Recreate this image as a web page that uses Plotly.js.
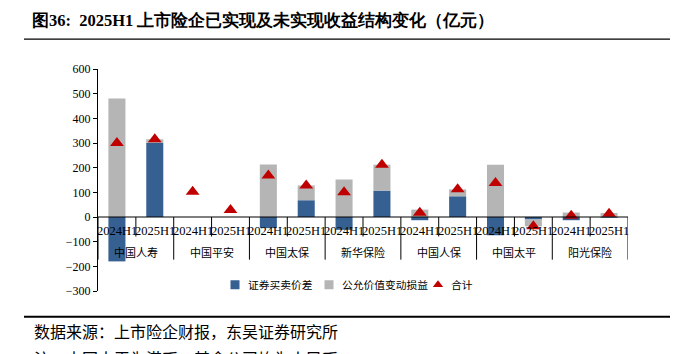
<!DOCTYPE html>
<html>
<head>
<meta charset="utf-8">
<script src="https://cdn.plot.ly/plotly-3.0.1.min.js"></script>
<style>html,body{margin:0;padding:0;background:#fff;}#chart{width:691px;height:354px;}</style>
</head>
<body>
<div id="chart"></div>
<script>
const companies = ['中国人寿','中国平安','中国太保','新华保险','中国人保','中国太平','阳光保险'];
const periods = ['2024H1','2025H1'];
const tradingSpread   = [-180, 300, null, null, -45, 68, -52, 107, -13, 84, -74, -10, -13, -3];
const fairValueChange = [480, 15, null, null, 213, 60, 152, 105, 30, 28, 212, -28, 18, 16];
const totalIncome     = [300, 315, 102, 28, 168, 128, 100, 212, 17, 112, 138, -38, 5, 13];
const seriesNames = ['证券买卖价差','公允价值变动损益','合计'];

const W = 691, H = 354;
const L = 98, R = 628, T = 69.3, B = 291.3;
const px2x = p => (p - L) / (R - L);
const px2y = p => (B - p) / (B - T);

const cats = [];
companies.forEach(c => periods.forEach(p => cats.push(c + ' ' + p)));

const serif = '"Liberation Serif", "Times New Roman", serif';
const cjk = '"Noto Sans CJK SC", "Liberation Serif", sans-serif';

const traces = [
  {type:'bar', name:seriesNames[0], x:cats, y:tradingSpread, marker:{color:'#365F92'}, legendwidth:49},
  {type:'bar', name:seriesNames[1], x:cats, y:fairValueChange, marker:{color:'#B5B5B5'}, legendwidth:64},
  {type:'scatter', mode:'markers', name:seriesNames[2], x:cats, y:totalIncome,
   marker:{symbol:'triangle-up', size:12, color:'#C00000'}}
];

const annotations = [];
const shapes = [];
cats.forEach((c, i) => {
  annotations.push({x:i, y:-55, xref:'x', yref:'y', text:periods[i % 2], showarrow:false,
    font:{family:serif, size:12.5, color:'#000'}});
});
companies.forEach((c, g) => {
  annotations.push({x:g*2+0.5, y:-140, xref:'x', yref:'y', text:c, showarrow:false,
    font:{family:cjk, size:11, color:'#000'}});
});
for (let i = 0; i <= cats.length; i++) {
  const long = (i % 2 === 0);
  shapes.push({type:'line', xref:'x', yref:'y', x0:i-0.5, x1:i-0.5, y0:0, y1: long ? -173 : -79,
    line:{color:'#000', width:1}, layer:'above'});
}
shapes.push({type:'line', xref:'x', yref:'y', x0:-0.5, x1:cats.length-0.5, y0:0, y1:0,
  line:{color:'#000', width:1}, layer:'above'});
// header and footer rules
shapes.push({type:'line', xref:'paper', yref:'paper', x0:px2x(24), x1:px2x(670), y0:px2y(39.5), y1:px2y(39.5),
  line:{color:'#000', width:1.3}});
shapes.push({type:'line', xref:'paper', yref:'paper', x0:px2x(24), x1:px2x(670), y0:px2y(317), y1:px2y(317),
  line:{color:'#000', width:2}});

annotations.push({xref:'paper', yref:'paper', x:px2x(32), y:px2y(331), xanchor:'left', yanchor:'middle',
  text:'数据来源：上市险企财报，东吴证券研究所', showarrow:false, font:{family:cjk, size:16, color:'#000'}});
annotations.push({xref:'paper', yref:'paper', x:px2x(32), y:px2y(358), xanchor:'left', yanchor:'middle',
  text:'注：中国太平为港币，其余公司均为人民币', showarrow:false, font:{family:cjk, size:16, color:'#000'}});

const layout = {
  width:W, height:H,
  margin:{l:L, r:W-R, t:T, b:H-B, pad:0},
  paper_bgcolor:'#fff', plot_bgcolor:'#fff',
  barmode:'relative', bargap:0.55,
  showlegend:true,
  legend:{orientation:'h', x:px2x(208), y:px2y(285), xanchor:'left', yanchor:'middle',
    font:{family:cjk, size:10.75, color:'#000'}, itemwidth:30, tracegroupgap:0, bgcolor:'rgba(0,0,0,0)'},
  title:{text:'<b>图36:  2025H1 上市险企已实现及未实现收益结构变化（亿元）</b>', xref:'container', yref:'container',
    x:32/W, xanchor:'left', y:1-20/H, yanchor:'middle', font:{family:serif, size:16.5, color:'#000'}},
  xaxis:{type:'category', range:[-0.5, cats.length-0.5], showticklabels:false, showgrid:false,
    zeroline:false, showline:false, ticks:'', fixedrange:true},
  yaxis:{range:[-300, 600], dtick:100, tick0:0, showgrid:false, zeroline:false, showline:true,
    linecolor:'#000', linewidth:1, ticks:'outside', ticklen:4, tickcolor:'#000',
    tickfont:{family:serif, size:12, color:'#000'}, fixedrange:true},
  annotations, shapes
};

Plotly.newPlot('chart', traces, layout, {staticPlot:true, displayModeBar:false}).then(gd => {
  // nudge legend swatches closer to their labels, as in the reference
  gd.querySelectorAll('.legend .legendpoints').forEach(el => {
    const old = el.getAttribute('transform') || '';
    el.setAttribute('transform', old + ' translate(12,0) scale(0.75)');
  });
});
</script>
</body>
</html>
